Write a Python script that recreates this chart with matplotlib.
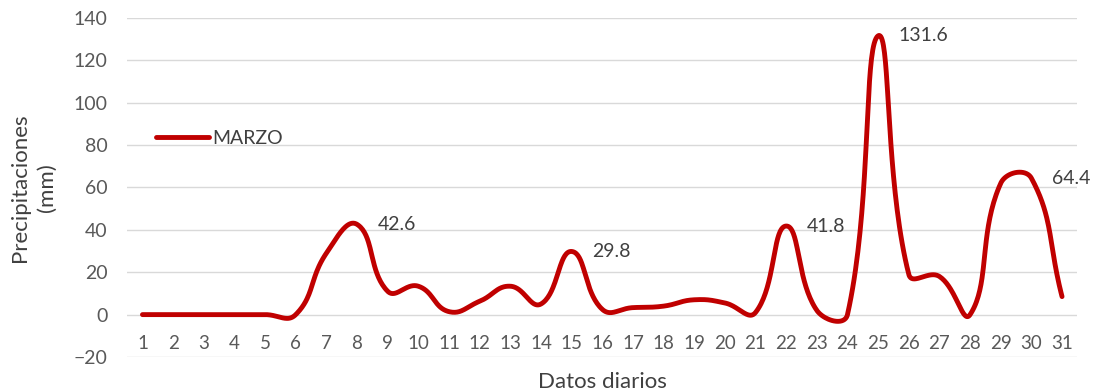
import numpy as np
from matplotlib import pyplot as plt

# precipitacion diaria de marzo (mm)
dias = list(range(1, 32))
marzo = [0, 0, 0, 0, 0, 0, 29, 42.6, 11, 13.4, 1.4, 6.3, 13.4, 5, 29.8,
         2.5, 3.3, 4, 7, 5.5, 1, 41.8, 2, 0, 131.6, 19, 18, 0, 62, 64.4, 8.5]
# dias con etiqueta de valor
etiquetados = [8, 15, 22, 25, 30]

ROJO = '#c00000'
GRIS = '#595959'
OSCURO = '#404040'


def suavizar(x, y, sx=30.6, sy=2.12, k=0.45, n=40):
    """Curva suave bezier; los puntos de control se escalan con la
    longitud de cada tramo (medida en pixeles aprox.)."""
    P = np.column_stack([np.asarray(x, float) * sx, np.asarray(y, float) * sy])
    P = np.vstack([P[0], P, P[-1]])
    t = np.linspace(0, 1, n)[:, None]
    out = []
    for i in range(1, len(P) - 2):
        p0, p1 = P[i], P[i + 1]
        d_prev = np.linalg.norm(P[i] - P[i - 1])
        d_cur = np.linalg.norm(p1 - p0)
        d_next = np.linalg.norm(P[i + 2] - P[i + 1])
        f1 = d_cur / (d_prev + d_cur) if d_prev + d_cur else 0
        f2 = d_cur / (d_cur + d_next) if d_cur + d_next else 0
        c1 = p0 + (p1 - P[i - 1]) * k * f1
        c2 = p1 - (P[i + 2] - p0) * k * f2
        seg = (1 - t) ** 3 * p0 + 3 * (1 - t) ** 2 * t * c1 + 3 * (1 - t) * t ** 2 * c2 + t ** 3 * p1
        out.append(seg)
    out = np.vstack(out)
    return out[:, 0] / sx, out[:, 1] / sy


plt.rcParams['font.family'] = ['Lato', 'DejaVu Sans']

fig = plt.figure(figsize=(10.96, 3.91), dpi=100)
ax = fig.add_axes([0.116, 0.087, 0.867, 0.867])

cx, cy = suavizar(dias, marzo)
ax.plot(cx, cy, color=ROJO, lw=3.5, solid_capstyle='round', label='MARZO')

for d in etiquetados:
    v = marzo[d - 1]
    ax.annotate(f"{v}", (d, v), xytext=(15, 0), textcoords='offset points',
                va='center', ha='left', fontsize=14, color=OSCURO)

# etiquetas de categoria entre 0 y -20
for d in dias:
    ax.text(d, -13.5, str(d), ha='center', va='center', fontsize=13.5, color=GRIS)

ax.set_xlim(0.5, 31.5)
ax.set_ylim(-20, 140)
ax.set_yticks(range(-20, 141, 20))
ax.set_xticks([])
ax.tick_params(axis='y', length=0, pad=14, labelsize=14, labelcolor=GRIS)
ax.grid(axis='y', color='#d9d9d9', lw=1)
ax.set_axisbelow(True)
for s in ax.spines.values():
    s.set_visible(False)

ax.set_ylabel('Precipitaciones\n(mm)', fontsize=16, color=OSCURO, labelpad=12,
              linespacing=1.45)
ax.set_xlabel('Datos diarios', fontsize=16, color=OSCURO, labelpad=11)

ax.legend(loc='center left', bbox_to_anchor=(0.012, 0.645), frameon=False,
          handlelength=2.7, handletextpad=0.2, fontsize=14, labelcolor=OSCURO)

fig.savefig('out.png', dpi=100)
